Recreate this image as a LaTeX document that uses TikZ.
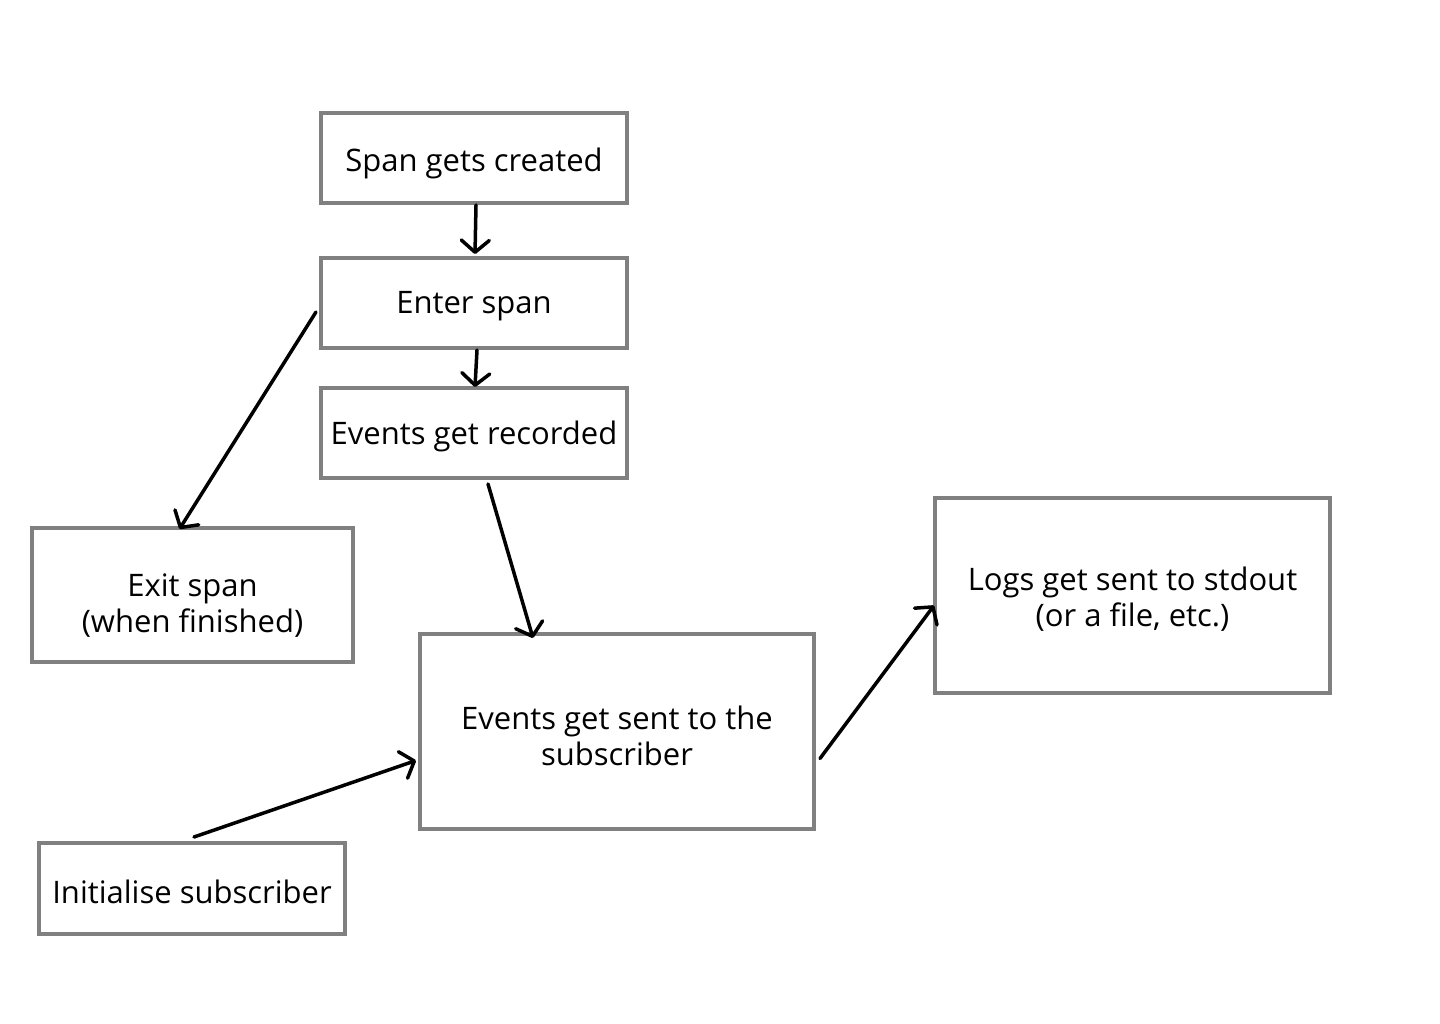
\documentclass[tikz,border=0pt]{standalone}
\usepackage{fontspec}
\setmainfont{Open Sans}
\usetikzlibrary{arrows.meta,calc}
\definecolor{boxgray}{HTML}{808080}
\tikzset{
  box/.style={draw=boxgray, line width=4pt, fill=white, inner sep=0pt},
  txt/.style={inner sep=0pt, align=center, font=\fontsize{31}{36}\selectfont},
  conn/.style={draw=black, line width=3.5pt, line cap=round, -{Straight Barb[length=12pt,width=28pt,line cap=round,line join=round]}}
}
\begin{document}
\begin{tikzpicture}[x=1pt,y=-1pt]
\useasboundingbox[fill=white] (0,0) rectangle (1440,1024);
\node[box, minimum width=306pt, minimum height=90pt] (created) at (474,158) {};
\node[box, minimum width=306pt, minimum height=90pt] (enter) at (474,303) {};
\node[box, minimum width=306pt, minimum height=90pt] (recorded) at (474,433) {};
\node[box, minimum width=321pt, minimum height=134pt] (exit) at (192.5,595) {};
\node[box, minimum width=394pt, minimum height=195pt] (sent) at (617,731.5) {};
\node[box, minimum width=395pt, minimum height=195pt] (logs) at (1132.5,595.5) {};
\node[box, minimum width=306pt, minimum height=91pt] (init) at (192,888.5) {};
\node[txt] (created-t) at ($(created.center)+(0,5)$) {Span gets created};
\node[txt] (enter-t) at ($(enter.center)+(0,3)$) {Enter span};
\node[txt] (recorded-t) at ($(recorded.center)+(0,3)$) {Events get recorded};
\node[txt] (exit-t) at ($(exit.center)+(0,11)$) {Exit span\\(when finished)};
\node[txt] (sent-t) at ($(sent.center)+(0,4)$) {Events get sent to the\\subscriber};
\node[txt] (logs-t) at ($(logs.center)+(0,4)$) {Logs get sent to stdout\\(or a file, etc.)};
\node[txt] (init-t) at ($(init.center)+(0,3)$) {Initialise subscriber};
\draw[conn] ($(created.south)+(2,0)$) -- ($(enter.north)+(1,-2)$);
\draw[conn] ($(enter.south)+(3,0)$) -- ($(recorded.north)+(1,1)$);
\draw[conn] ($(enter.west)+(-3,9)$) -- ($(exit.north)+(-13,3)$);
\draw[conn] ($(recorded.south)+(14,4)$) -- ($(sent.north)+(-84,6)$);
\draw[conn] ($(init.north)+(2,-4)$) -- ($(sent.west)+(-2,29)$);
\draw[conn] ($(sent.east)+(4,27)$) -- ($(logs.west)+(1,10)$);
\end{tikzpicture}
\end{document}
